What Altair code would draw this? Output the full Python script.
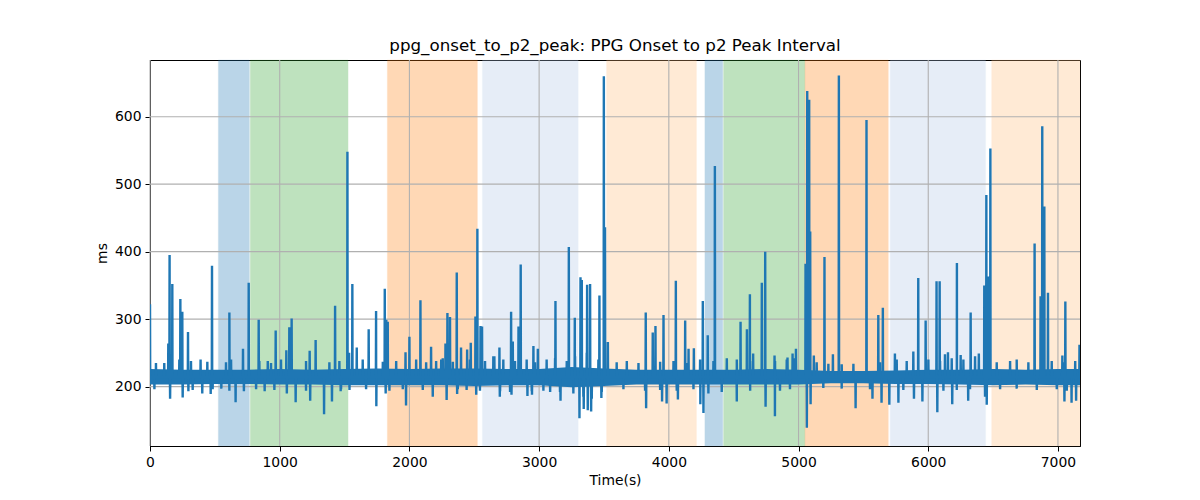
import altair as alt
import pandas as pd

# ---- data ----
# shaded phases: start, end (s) and phase key
phase_start = [527, 773, 1830, 2563, 3520, 4278, 4422, 5049, 5707, 6489]
phase_end = [766, 1527, 2524, 3301, 4213, 4416, 5049, 5692, 6442, 7170]
phase_key = ["p1", "p2", "p3", "p4", "p5", "p1", "p2", "p3", "p4", "p5"]

# envelope of the dense beat-to-beat band
band_t = [0, 250, 500, 750, 1000, 1250, 1500, 1750, 2000, 2250, 2500, 2750, 3000, 3250,
          3500, 3750, 4000, 4250, 4500, 4750, 5000, 5250, 5500, 5750, 6000, 6250, 6500,
          6750, 7000, 7170]
band_hi = [226, 225, 225, 225, 226, 225, 226, 227, 226, 227, 227, 226, 226, 229, 227, 225,
           225, 225, 225, 226, 225, 223, 223, 224, 225, 225, 226, 225, 226, 226]
band_lo = [203, 203, 204, 204, 203, 203, 202, 202, 202, 202, 201, 202, 202, 199, 201, 203,
           203, 203, 203, 203, 203, 205, 205, 204, 204, 203, 202, 203, 202, 202]

base_level = 214

# upward excursions (time s, ms)
up_t = [0, 110, 141, 151, 172, 234, 249, 293, 390, 442, 478, 612, 717, 761, 838, 908, 969,
        1051, 1074, 1092, 1231, 1277, 1427, 1522, 1535, 1560, 1594, 1686, 1743, 1810, 1822,
        1833, 1970, 2000, 2085, 2167, 2245, 2278, 2293, 2313, 2365, 2398, 2445, 2473, 2509,
        2524, 2548, 2560, 2655, 2694, 2784, 2797, 2841, 2858, 2956, 2990, 3126, 3229, 3275,
        3319, 3329, 3370, 3393, 3465, 3499, 3508, 3530,
        3822, 3876, 3897, 3959, 4054, 4126, 4152, 4193, 4262, 4300, 4355, 4553, 4602, 4625,
        4650, 4717, 4743, 4815, 4915, 4954, 4980, 5054, 5067, 5082, 5090, 5118, 5200, 5265,
        5311, 5524, 5615, 5650, 5743, 5885, 5923, 5980, 6064, 6088, 6129, 6152, 6221, 6250,
        6327, 6390, 6432, 6448, 6463, 6479, 6820, 6866, 6879, 6895, 6923, 7034, 7057, 7166]
up_v = [322, 235, 264, 395, 352, 330, 311, 281, 240, 237, 379, 310, 256, 354, 299, 238, 283,
        254, 288, 301, 253, 269, 320, 548, 250, 352, 258, 285, 312, 345, 299,
        296, 251, 274, 328, 259, 240, 264, 309, 303, 369, 258, 255, 265, 304,
        434, 290, 289, 245, 258, 311, 267, 289, 381, 260, 256, 327, 407, 302,
        362, 358, 351, 352, 335, 660, 436, 266,
        310, 280, 290, 306, 357, 298, 256, 257, 327, 276, 527, 296, 285, 337,
        249, 354, 400, 246, 243, 249, 256, 382, 638, 625, 430, 246, 392, 248,
        661, 595, 306, 317, 249, 252, 361, 298, 356, 356, 248, 251, 383, 247,
        310, 249, 350, 484, 363, 553, 412, 334, 586, 467, 339, 246, 326, 262]

# small upward jags along the top of the band
small_up_t = [46, 226, 316, 586, 625, 843, 933, 1010, 1203, 1383, 1460, 1640, 1795, 1898,
              2052, 2129, 2206, 2257, 2335, 2467, 2583, 2647, 2724, 2814, 2904, 2968, 3058,
              3123, 3213, 3277, 3367, 3457, 3598, 3676, 3766, 3933, 4036, 4138, 4241, 4344,
              4447, 4524, 4627, 4819, 4909, 4973, 5140, 5230, 5333, 5423, 5628, 5757, 5834,
              6001, 6091, 6181, 6271, 6361, 6528, 6631, 6682, 6772, 6952, 7042, 7133]
small_up_v = [235, 240, 238, 236, 240, 238, 235, 240, 238, 236, 238, 240, 237, 238,
              240, 236, 238, 242, 237, 240, 238, 245, 240, 238, 240, 236, 240,
              242, 238, 245, 250, 240, 236, 238, 235, 237, 238, 235, 240, 238,
              242, 240, 238, 238, 240, 242, 236, 234, 233, 234, 236, 240, 238,
              240, 238, 242, 240, 245, 236, 238, 240, 236, 238, 236, 238]

# downward excursions (time s, ms)
down_t = [155, 252, 296, 403, 468, 550, 660, 724, 884, 1055, 1123, 1235, 1342, 1403, 1470,
          1745, 1817, 1974, 2180, 2287, 2368, 2515, 2697, 2787, 2910, 2945, 3085, 3165, 3311,
          3344, 3375, 3401, 3480, 3825, 3948, 3983, 4070, 4243, 4267, 4524, 4746, 4818, 5064,
          5093, 5440, 5570, 5640, 5700, 5770, 5890, 5955, 6070, 6185, 6308, 6451, 7050, 7105,
          7140]
down_v = [182, 184, 193, 190, 189, 197, 177, 193, 193, 190, 177, 179, 159, 178, 193,
          171, 190, 172, 185, 180, 189, 188, 185, 188, 186, 188, 192, 179, 153,
          167, 165, 163, 183, 168, 178, 175, 181, 174, 161, 178, 170, 156, 139,
          174, 168, 182, 176, 173, 176, 182, 178, 162, 174, 179, 173, 178, 176,
          179]

# small downward jags along the bottom of the band
small_dn_t = [34, 329, 483, 612, 818, 959, 1203, 1473, 1538, 1666, 1846, 1949, 2103, 2373,
              2441, 2544, 2699, 2776, 2943, 3033, 3161, 3264, 3341, 3406, 3483, 3650, 3817,
              3933, 4061, 4190, 4305, 4408, 4627, 4857, 4934, 5191, 5333, 5551, 5808, 6117,
              6220, 6322, 6438, 6554, 6682, 6837, 6991, 7068]
small_dn_v = [196, 195, 196, 194, 196, 195, 194, 196, 195, 196, 194, 196, 195, 196,
              195, 194, 193, 192, 193, 194, 192, 190, 185, 182, 192, 196, 194,
              195, 194, 196, 190, 192, 194, 194, 196, 198, 197, 196, 195, 194,
              195, 196, 185, 196, 197, 195, 196, 194]

x_ticks = [0, 1000, 2000, 3000, 4000, 5000, 6000, 7000]
y_ticks = [200, 300, 400, 500, 600]
phase_keys = ["p1", "p2", "p3", "p4", "p5"]
phase_colors = ["#1f77b4", "#2ca02c", "#ff7f0e", "#aec7e8", "#ffbb78"]

# ---- tables ----
phases = pd.DataFrame({"start": phase_start, "end": phase_end, "phase": phase_key})
band = pd.DataFrame({"t": band_t, "lo": band_lo, "hi": band_hi})

events = sorted(
    list(zip(up_t, up_v)) + list(zip(down_t, down_v))
    + list(zip(small_up_t, small_up_v)) + list(zip(small_dn_t, small_dn_v))
)
rows = []
for t, v in events:
    if t > 0:
        rows.append((t - 1.5, base_level))
    rows.append((t, v))
    rows.append((t + 1.5, base_level))
line = pd.DataFrame(rows, columns=["t", "ms"])

xgrid = pd.DataFrame({"v": x_ticks})
ygrid = pd.DataFrame({"v": y_ticks})

XD = [0, 7170]
YD = [112, 684]
xs = alt.Scale(domain=XD, nice=False, zero=False)
ys = alt.Scale(domain=YD, nice=False, zero=False)

x_axis = alt.Axis(values=x_ticks, grid=False, title="Time(s)", format="d", labelFlush=False)
y_axis = alt.Axis(values=y_ticks, grid=False, title="ms", format="d", labelFlush=False)

rects = alt.Chart(phases).mark_rect(opacity=0.3, strokeOpacity=0.3, strokeWidth=1).encode(
    x=alt.X("start:Q", scale=xs, axis=x_axis),
    x2="end:Q",
    y=alt.value(0),
    y2=alt.value(386),
    color=alt.Color("phase:N", scale=alt.Scale(domain=phase_keys, range=phase_colors), legend=None),
    stroke=alt.Stroke("phase:N", scale=alt.Scale(domain=phase_keys, range=phase_colors), legend=None),
)

gx = alt.Chart(xgrid).mark_rule(color="#b0b0b0", strokeWidth=1.1).encode(
    x=alt.X("v:Q", scale=xs, axis=x_axis)
)
gy = alt.Chart(ygrid).mark_rule(color="#b0b0b0", strokeWidth=1.1).encode(
    y=alt.Y("v:Q", scale=ys, axis=y_axis)
)

area = alt.Chart(band).mark_area(color="#1f77b4", opacity=1, clip=True).encode(
    x=alt.X("t:Q", scale=xs, axis=x_axis),
    y=alt.Y("lo:Q", scale=ys, axis=y_axis),
    y2="hi:Q",
)

ln = alt.Chart(line).mark_line(color="#1f77b4", strokeWidth=2.4, clip=True).encode(
    x=alt.X("t:Q", scale=xs, axis=x_axis),
    y=alt.Y("ms:Q", scale=ys, axis=y_axis),
)

chart = alt.layer(rects, gx, gy, area, ln).properties(
    width=930,
    height=386,
    title=alt.TitleParams(
        "ppg_onset_to_p2_peak: PPG Onset to p2 Peak Interval",
        font="DejaVu Sans", fontSize=16.7, fontWeight="normal", color="black", offset=5,
    ),
    autosize=alt.AutoSizeParams(type="none"),
    padding={"left": 142, "top": 52, "right": 112, "bottom": 46},
).configure_view(
    stroke="black", strokeWidth=1
).configure_axis(
    labelFont="DejaVu Sans", labelFontSize=13.9, labelColor="black",
    titleFont="DejaVu Sans", titleFontSize=13.9, titleFontWeight="normal", titleColor="black",
    domainColor="black", domainWidth=1, tickColor="black", tickSize=5, tickWidth=1,
    labelPadding=4, titlePadding=5,
)

chart.save("out.html", embed_options={"renderer": "svg", "actions": False})
